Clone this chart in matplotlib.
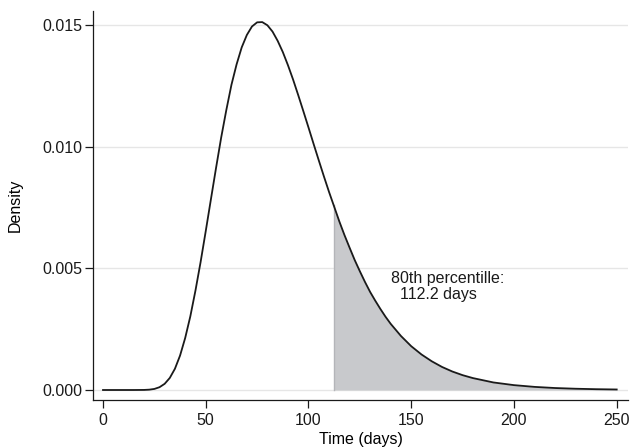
import matplotlib.pyplot as plt
import numpy as np

plt.rcParams['font.family'] = ['Liberation Sans', 'DejaVu Sans']

# density curve
days = [0, 5, 10, 15, 20, 22.5, 25, 27.5, 30, 32.5, 35, 37.5, 40, 42.5,
        45, 47.5, 50, 52.5, 55, 57.5, 60, 62.5, 65, 67.5, 70, 72.5, 75,
        77.5, 80, 82.5, 85, 87.5, 90, 92.5, 95, 97.5, 100, 102.5, 105,
        107.5, 110, 115, 117.5, 120, 122.5, 125, 127.5, 130, 132.5, 135,
        137.5, 140, 145, 150, 155, 160, 165, 170, 175, 180, 190, 200,
        210, 220, 230, 240, 250]
density = [0.0, 0.0, 0.0, 0.0, 0.000003, 0.000014, 0.000044, 0.000115,
           0.000254, 0.000496, 0.000873, 0.001416, 0.00214, 0.003029,
           0.00409, 0.00526, 0.00653, 0.00783, 0.00912, 0.01037, 0.0115,
           0.01254, 0.01338, 0.01408, 0.01459, 0.01494, 0.01511, 0.01512,
           0.01499, 0.01473, 0.01435, 0.01389, 0.01335, 0.01276, 0.01212,
           0.01146, 0.01079, 0.01011, 0.00944, 0.00878, 0.00814, 0.00693,
           0.00637, 0.00585, 0.00534, 0.00488, 0.00444, 0.00403, 0.00367,
           0.00333, 0.00301, 0.00272, 0.00222, 0.0018, 0.00146, 0.00118,
           0.000947, 0.00076, 0.00061, 0.00049, 0.00031, 0.0002, 0.000128,
           0.000081, 0.000052, 0.000033, 0.000021]

pct80 = 112.2
pct80_density = 0.0076
label_text = '80th percentille:\n  112.2 days'

days = np.array(days)
density = np.array(density)

fig = plt.figure(figsize=(6.3, 4.48), dpi=100)
ax = fig.add_axes([93 / 630, 48 / 448, 535 / 630, 389 / 448])

# shaded upper tail
tail = days > pct80
tx = np.concatenate([[pct80], days[tail]])
ty = np.concatenate([[pct80_density], density[tail]])
ax.fill_between(tx, 0, ty, color='#c8c9cc', lw=0, zorder=1)
ax.plot([pct80, pct80], [0, pct80_density], color='#b4b5b9', lw=1, zorder=1.5)

ax.plot(days, density, color='#1a1a1a', lw=1.3, zorder=3,
        solid_joinstyle='round')

ax.text(140.2, 0.00488, label_text, fontsize=11.5, ha='left', va='top',
        linespacing=1.1, color='#1a1a1a')

ax.set_xlim(-4.87, 255.5)
ax.set_ylim(-0.000411, 0.015576)
ax.set_xticks([0, 50, 100, 150, 200, 250])
ax.set_yticks([0, 0.005, 0.010, 0.015])
ax.set_yticklabels(['0.000', '0.005', '0.010', '0.015'])
ax.tick_params(labelsize=11.5, length=5.5, width=0.9, colors='#1a1a1a')
ax.tick_params(axis='y', pad=2)
ax.tick_params(axis='x', pad=4)

ax.grid(axis='y', color='#e6e6e6', lw=1)
ax.set_axisbelow(True)
for s in ['top', 'right']:
    ax.spines[s].set_visible(False)
for s in ['left', 'bottom']:
    ax.spines[s].set_linewidth(0.9)
    ax.spines[s].set_color('#1a1a1a')

ax.set_xlabel('Time (days)', fontsize=11.5, labelpad=3)
ax.set_ylabel('Density', fontsize=11.5, labelpad=14)

fig.savefig('out.png', dpi=100)
